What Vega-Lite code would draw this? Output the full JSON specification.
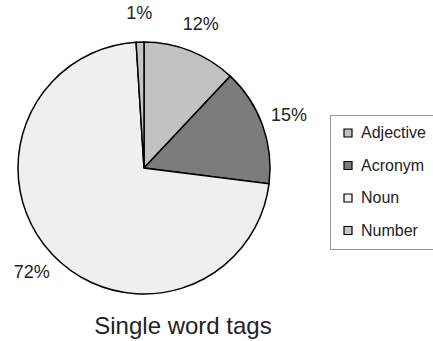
{
  "$schema": "https://vega.github.io/schema/vega-lite/v6.json",
  "width": 288,
  "height": 336,
  "padding": 0,
  "autosize": {"type": "pad"},
  "background": "white",
  "config": {
    "view": {"stroke": null},
    "font": "Liberation Sans"
  },
  "title": {
    "text": "Single word tags",
    "orient": "bottom",
    "anchor": "middle",
    "fontSize": 24,
    "fontWeight": "normal",
    "color": "#222222",
    "offset": -21,
    "dx": 39
  },
  "data": {
    "values": [
      {"tag": "Adjective", "share": 0.12, "seq": 1},
      {"tag": "Acronym", "share": 0.15, "seq": 2},
      {"tag": "Noun", "share": 0.72, "seq": 3},
      {"tag": "Number", "share": 0.01, "seq": 4}
    ]
  },
  "encoding": {
    "theta": {"field": "share", "type": "quantitative", "stack": true},
    "order": {"field": "seq", "type": "quantitative"}
  },
  "layer": [
    {
      "mark": {"type": "arc", "outerRadius": 126, "stroke": "#000000", "strokeWidth": 1.5},
      "encoding": {
        "color": {
          "field": "tag",
          "type": "nominal",
          "sort": null,
          "scale": {
            "domain": ["Adjective", "Acronym", "Noun", "Number"],
            "range": ["#c2c2c2", "#7c7c7c", "#efefef", "#c6c6c6"]
          },
          "legend": {
            "title": null,
            "orient": "none",
            "legendX": 330,
            "legendY": 115,
            "padding": 10,
            "strokeColor": "#999999",
            "fillColor": "#ffffff",
            "rowPadding": 16.5,
            "labelFontSize": 16,
            "labelColor": "#222222",
            "labelOffset": 5,
            "symbolType": "square",
            "symbolSize": 64,
            "symbolStrokeColor": "#000000",
            "symbolStrokeWidth": 1.2
          }
        }
      }
    },
    {
      "mark": {"type": "text", "radius": 154, "fontSize": 18, "color": "#222222", "align": "center", "baseline": "middle"},
      "encoding": {
        "text": {"field": "share", "type": "quantitative", "format": ".0%"}
      }
    }
  ]
}
